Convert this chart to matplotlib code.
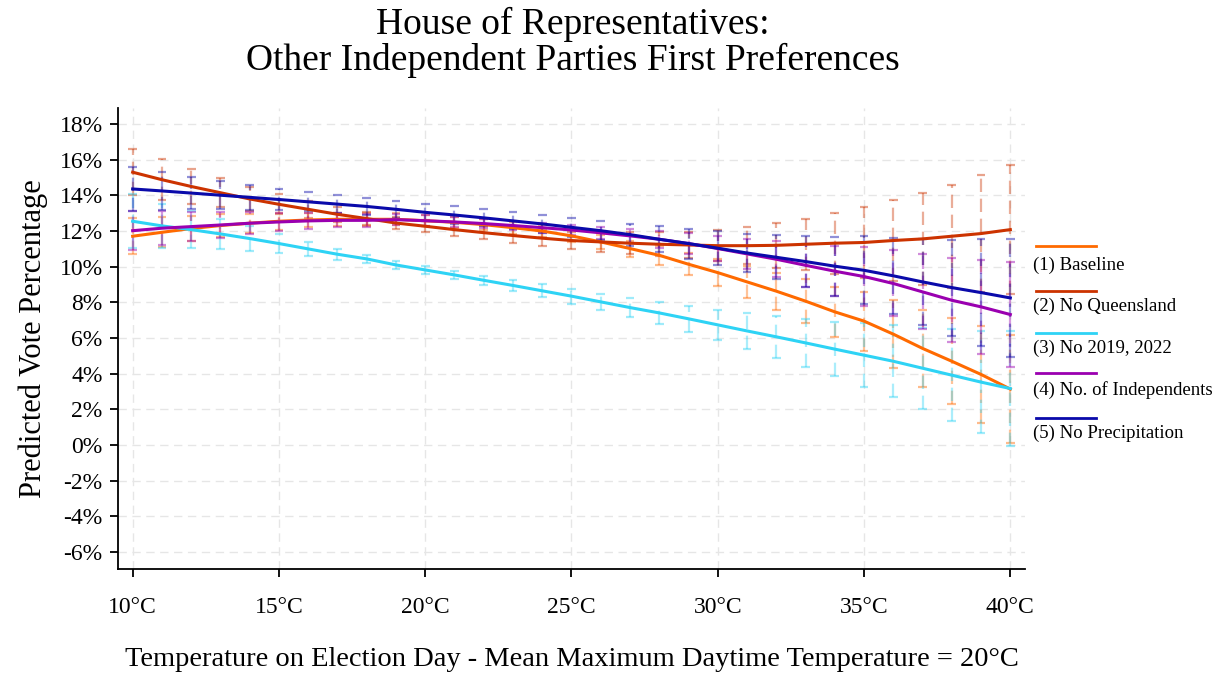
import matplotlib
matplotlib.use("Agg")
import matplotlib.pyplot as plt
from matplotlib.lines import Line2D
import numpy as np

temps = list(range(10, 41))

series_names = ["(1) Baseline", "(2) No Queensland", "(3) No 2019, 2022",
                "(4) No. of Independents", "(5) No Precipitation"]

baseline = [11.71, 11.93, 12.14, 12.31, 12.44, 12.55, 12.62, 12.66, 12.66, 12.66,
            12.58, 12.49, 12.36, 12.19, 12.00, 11.73, 11.39, 11.02, 10.64, 10.14,
            9.67, 9.15, 8.63, 8.07, 7.47, 6.95, 6.22, 5.42, 4.70, 3.96, 3.14]
baseline_ci = [1.00, 0.85, 0.72, 0.62, 0.54, 0.47, 0.42, 0.38, 0.35, 0.33,
               0.32, 0.32, 0.32, 0.33, 0.35, 0.37, 0.40, 0.45, 0.52, 0.62,
               0.75, 0.88, 1.03, 1.22, 1.42, 1.65, 1.92, 2.15, 2.40, 2.70, 3.05]

no_qld = [15.30, 14.88, 14.50, 14.15, 13.80, 13.50, 13.22, 12.94, 12.70, 12.45,
          12.27, 12.08, 11.91, 11.75, 11.60, 11.47, 11.39, 11.32, 11.26, 11.22,
          11.18, 11.18, 11.20, 11.26, 11.32, 11.36, 11.47, 11.56, 11.71, 11.86, 12.08]
no_qld_ci = [1.30, 1.14, 0.96, 0.80, 0.68, 0.57, 0.48, 0.42, 0.38, 0.36,
             0.35, 0.36, 0.38, 0.41, 0.45, 0.50, 0.55, 0.60, 0.66, 0.75,
             0.88, 1.05, 1.26, 1.44, 1.70, 2.00, 2.25, 2.60, 2.90, 3.27, 3.60]

no_1922 = [12.55, 12.29, 12.08, 11.84, 11.58, 11.30, 11.00, 10.70, 10.44, 10.10,
           9.82, 9.54, 9.24, 8.95, 8.65, 8.35, 8.03, 7.71, 7.41, 7.08,
           6.74, 6.40, 6.07, 5.73, 5.38, 5.04, 4.70, 4.31, 3.92, 3.53, 3.17]
no_1922_ci = [1.50, 1.22, 1.02, 0.85, 0.70, 0.55, 0.40, 0.30, 0.22, 0.20,
              0.22, 0.24, 0.26, 0.32, 0.36, 0.42, 0.46, 0.52, 0.63, 0.74,
              0.84, 1.00, 1.18, 1.36, 1.52, 1.78, 2.03, 2.28, 2.58, 2.88, 3.20]

n_indep = [12.02, 12.16, 12.25, 12.34, 12.44, 12.51, 12.57, 12.60, 12.60, 12.64,
           12.58, 12.51, 12.42, 12.31, 12.19, 12.06, 11.90, 11.73, 11.54, 11.30,
           11.02, 10.72, 10.42, 10.08, 9.75, 9.45, 9.06, 8.59, 8.12, 7.75, 7.32]
n_indep_ci = [1.08, 0.95, 0.83, 0.72, 0.62, 0.53, 0.46, 0.40, 0.36, 0.32,
              0.30, 0.28, 0.27, 0.27, 0.28, 0.30, 0.34, 0.40, 0.48, 0.58,
              0.70, 0.85, 1.00, 1.20, 1.40, 1.63, 1.85, 2.10, 2.35, 2.62, 2.92]

no_precip = [14.36, 14.25, 14.13, 14.01, 13.89, 13.77, 13.64, 13.51, 13.38, 13.22,
             13.05, 12.90, 12.74, 12.57, 12.40, 12.21, 12.02, 11.80, 11.54, 11.30,
             11.04, 10.77, 10.53, 10.29, 10.03, 9.80, 9.49, 9.15, 8.83, 8.55, 8.25]
no_precip_ci = [1.23, 1.06, 0.90, 0.80, 0.69, 0.60, 0.53, 0.50, 0.48, 0.47,
                0.49, 0.49, 0.48, 0.48, 0.50, 0.53, 0.53, 0.62, 0.73, 0.84,
                0.96, 1.07, 1.24, 1.45, 1.66, 1.90, 2.13, 2.40, 2.69, 2.98, 3.30]

colors = ["#ff6a00", "#cc3300", "#2ed3f5", "#9a00b0", "#0a0aaa"]

y_ticks = list(range(-6, 19, 2))
x_ticks = [10, 15, 20, 25, 30, 35, 40]

plt.rcParams["font.family"] = ["Liberation Serif", "DejaVu Serif"]

fig = plt.figure(figsize=(12.18, 6.75), dpi=100)
ax = fig.add_axes([0.0969, 0.157, 0.7446, 0.683])

values = [baseline, no_qld, no_1922, n_indep, no_precip]
cis = [baseline_ci, no_qld_ci, no_1922_ci, n_indep_ci, no_precip_ci]
t = np.array(temps)

# confidence intervals: dashed whiskers with solid caps, semi-transparent
for vals, ci, c in zip(values, cis, colors):
    v = np.array(vals)
    e = np.array(ci)
    lo, hi = v - e, v + e
    ax.vlines(t, lo, hi, colors=c, alpha=0.4, linewidth=1.6,
              linestyles=(0, (6, 3)), zorder=2)
    for yy in (lo, hi):
        ax.hlines(yy, t - 0.15, t + 0.15, colors=c, alpha=0.45,
                  linewidth=1.6, zorder=2)

# predicted lines
for vals, c in zip(values, colors):
    ax.plot(t, vals, color=c, linewidth=2.2, zorder=3)

ax.set_xlim(9.5, 40.5)
ax.set_ylim(-6.95, 18.9)
ax.set_xticks(x_ticks)
ax.set_xticklabels([f"{x}°C" for x in x_ticks])
ax.set_yticks(y_ticks)
ax.set_yticklabels([f"{y}%" for y in y_ticks])

ax.grid(True, color="#e6e6e6", linestyle=(0, (6, 4)), linewidth=1.0, zorder=0)
ax.set_axisbelow(True)
for s in ("top", "right"):
    ax.spines[s].set_visible(False)
for s in ("left", "bottom"):
    ax.spines[s].set_linewidth(1.3)
ax.tick_params(axis="both", direction="out", length=6, width=1.3,
               labelsize=17)
ax.tick_params(axis="x", pad=14)
ax.tick_params(axis="y", pad=5)

ax.set_ylabel("Predicted Vote Percentage", fontsize=22, labelpad=8)
ax.set_xlabel("Temperature on Election Day - Mean Maximum Daytime Temperature = 20°C",
              fontsize=20.5, labelpad=21)

fig.text(0.47, 0.99, "House of Representatives:\nOther Independent Parties First Preferences",
         ha="center", va="top", fontsize=27, linespacing=1.05)

# legend: line sample above each label
line_y = [246, 291, 333, 373, 418]
label_y = [265, 306, 348, 390, 433]
H = 675.0
W = 1218.0
for name, c, ly, ty in zip(series_names, colors, line_y, label_y):
    fig.add_artist(Line2D([1036 / W, 1096 / W], [1 - ly / H, 1 - ly / H],
                          color=c, linewidth=2.0))
    fig.text(1033 / W, 1 - ty / H, name, ha="left", va="center", fontsize=13.5)

fig.savefig("out.png", dpi=100)
